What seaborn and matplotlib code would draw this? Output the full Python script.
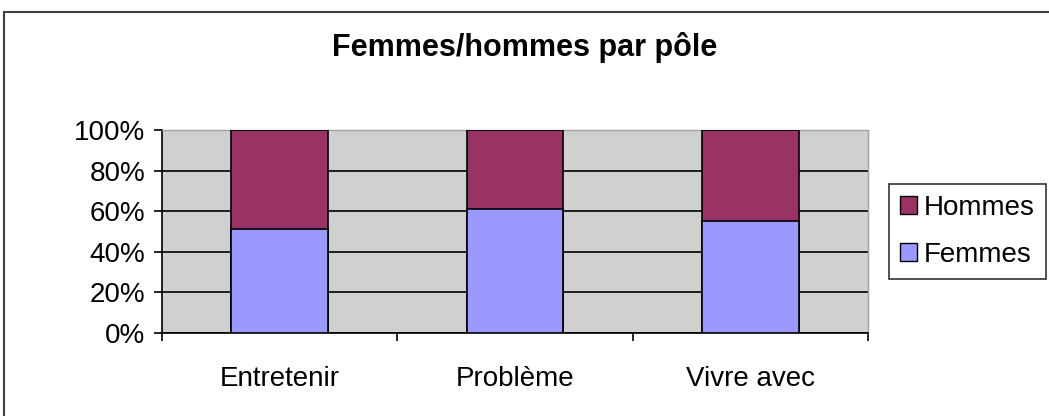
import matplotlib
matplotlib.use('Agg')
import matplotlib.pyplot as plt
import seaborn as sns
import pandas as pd
from matplotlib.patches import Rectangle, Patch

# Data (share of women per pole, in %)
poles = ['Entretenir', 'Problème', 'Vivre avec']
femmes = [51, 61, 55]
hommes = [49, 39, 45]

df = pd.DataFrame({'pole': poles, 'Femmes': femmes, 'Hommes': hommes})
df['total'] = df['Femmes'] + df['Hommes']

sns.set_style('white')
plt.rcParams['font.family'] = ['Liberation Sans', 'DejaVu Sans']
plt.rcParams['text.color'] = 'black'
plt.rcParams['xtick.color'] = 'black'
plt.rcParams['ytick.color'] = 'black'

fig = plt.figure(figsize=(10.49, 4.16), dpi=100)
ax = fig.add_axes([162 / 1049, 1 - 333 / 416, (868 - 162) / 1049, (333 - 130) / 416])
ax.set_facecolor('#D0D0D0')

# Stacked bars: full height (Hommes) then Femmes on top of it
sns.barplot(data=df, x='pole', y='total', order=poles, color='#993366',
            width=0.41, edgecolor='black', linewidth=1.2, saturation=1, ax=ax, zorder=3)
sns.barplot(data=df, x='pole', y='Femmes', order=poles, color='#9999FF',
            width=0.41, edgecolor='black', linewidth=1.2, saturation=1, ax=ax, zorder=3)

ax.set_ylim(0, 100)
ax.set_xlim(-0.5, 2.5)
ax.set_yticks(range(0, 101, 20))
ax.set_yticklabels([f'{v}%' for v in range(0, 101, 20)], fontsize=20)
ax.yaxis.grid(True, color='black', linewidth=1.2, zorder=1)
ax.set_axisbelow(True)

# x: ticks between categories, labels at centers
ax.set_xticks([-0.5, 0.5, 1.5, 2.5])
ax.set_xticklabels([])
ax.set_xticks([0, 1, 2], minor=True)
ax.set_xticklabels(poles, minor=True, fontsize=20)
ax.tick_params(axis='x', which='major', direction='out', length=6, width=1.2, color='black', bottom=True)
ax.tick_params(axis='x', which='minor', length=0, pad=24, labelcolor='black')
ax.tick_params(axis='y', direction='out', length=6, width=1.2, color='black', left=True, pad=6,
               labelcolor='black')
ax.set_xlabel('')
ax.set_ylabel('')

for side in ['top', 'right']:
    ax.spines[side].set_color('#A0A0A0')
    ax.spines[side].set_linewidth(1)
for side in ['left', 'bottom']:
    ax.spines[side].set_color('black')
    ax.spines[side].set_linewidth(1.2)

fig.text(0.5, 1 - 56 / 416, 'Femmes/hommes par pôle', ha='center', va='baseline',
         fontsize=22, fontweight='bold', color='black')

handles = [Patch(facecolor='#993366', edgecolor='black', label='Hommes'),
           Patch(facecolor='#9999FF', edgecolor='black', label='Femmes')]
leg = fig.legend(handles=handles, loc='upper left', bbox_to_anchor=(889 / 1049, 1 - 184 / 416),
                 fontsize=20, frameon=True, fancybox=False, handlelength=0.6, handleheight=0.6,
                 handletextpad=0.25, borderpad=0.4, labelspacing=0.75, borderaxespad=0)
leg.get_frame().set_edgecolor('black')
leg.get_frame().set_linewidth(1.2)

# chart area border
fig.patches.append(Rectangle((4 / 1049, -0.1), 1.2, 1.1 - 12 / 416, transform=fig.transFigure,
                             fill=False, edgecolor='#404040', linewidth=1.5, clip_on=False))

fig.savefig('out.png', dpi=100)
